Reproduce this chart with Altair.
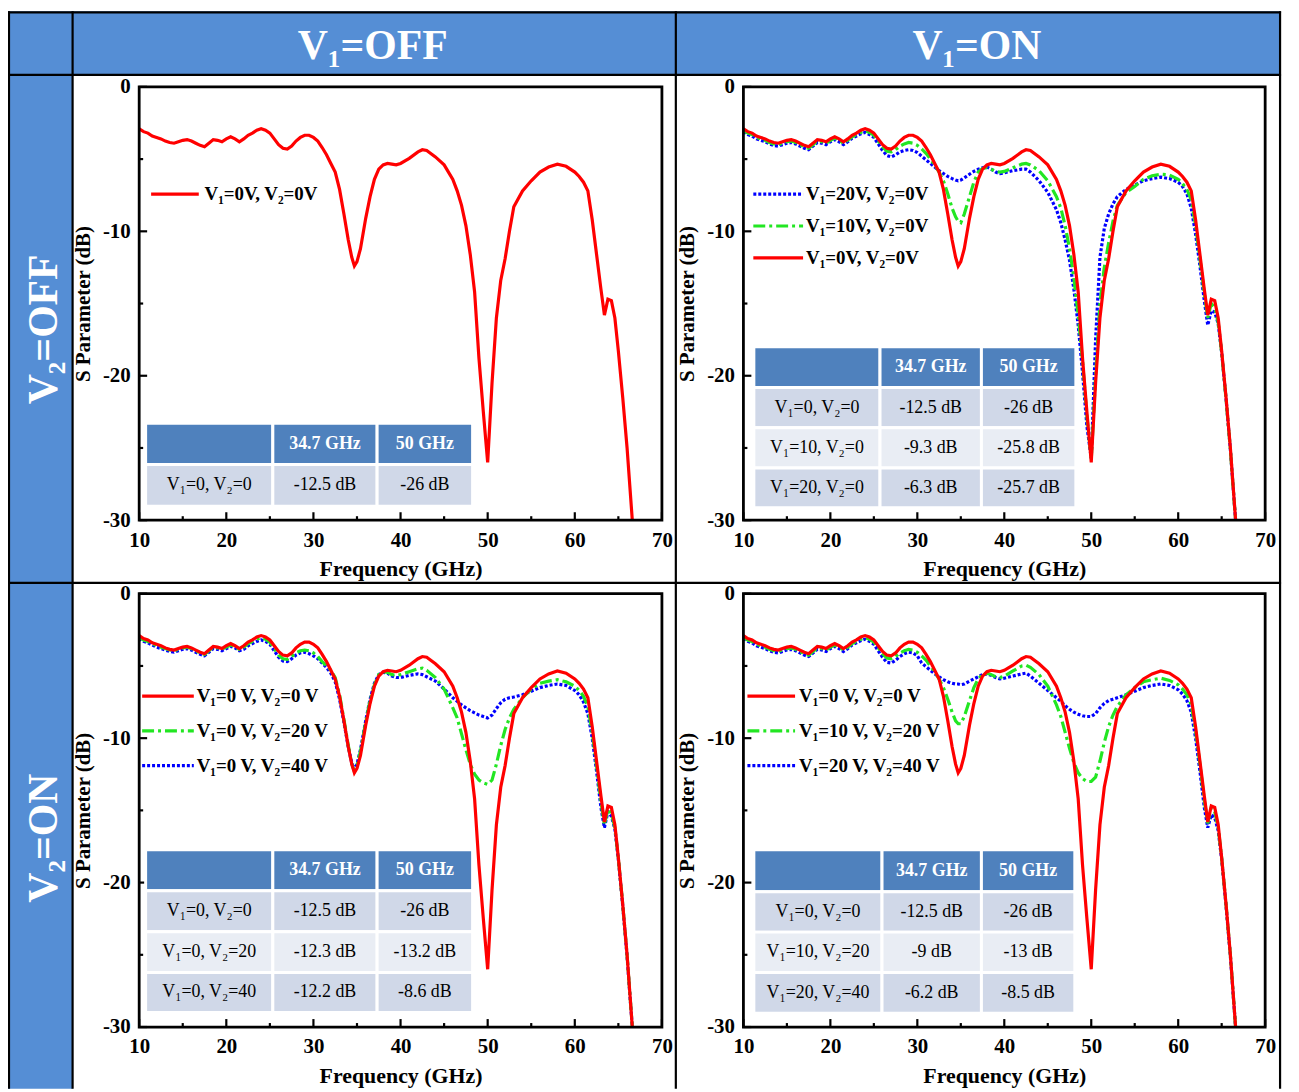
import altair as alt
import pandas as pd

# ---------------- values ----------------
FREQ = [10, 10.5, 11, 11.5, 12, 12.5, 13, 13.5, 14, 14.5, 15, 15.5, 16, 16.5, 17, 17.5,
        18, 18.5, 19, 19.5, 20, 20.5, 21, 21.5, 22, 22.5, 23, 23.5, 24, 24.5, 25, 25.5,
        26, 26.5, 27, 27.5, 28, 28.5, 29, 29.5, 30,
        30.5, 31, 31.5, 32, 32.5, 33, 33.5, 34, 34.4, 34.7, 35, 35.4,
        36, 36.5, 37, 37.5, 38, 38.5, 39, 39.5, 40,
        41, 42, 42.5, 43, 44, 45, 46,
        46.5, 47, 47.5, 48, 48.5, 49, 49.5, 50, 50.5, 51, 51.5, 52, 52.5, 53,
        54, 55, 56, 57, 58, 59, 60,
        60.5, 61, 61.5, 62, 62.5, 63,
        63.4, 63.8, 64.2, 64.6, 65, 65.5, 66, 66.3, 66.6]

# V1=0, V2=0 (red, same in all four panels)
S_00 = [-2.9, -3.1, -3.2, -3.4, -3.5, -3.6, -3.75, -3.85, -3.9, -3.8, -3.7, -3.65, -3.75, -3.9, -4.05, -4.15,
        -3.9, -3.65, -3.7, -3.8, -3.6, -3.45, -3.6, -3.8, -3.6, -3.35, -3.2, -3.0, -2.9, -3.0, -3.2, -3.6,
        -4.0, -4.25, -4.3, -4.1, -3.75, -3.5, -3.35, -3.35, -3.5,
        -3.75, -4.2, -4.7, -5.3, -5.9, -7.1, -8.8, -10.6, -11.8, -12.4, -12.1, -11.2,
        -9.1, -7.6, -6.4, -5.7, -5.4, -5.3, -5.35, -5.4, -5.3,
        -4.95, -4.5, -4.35, -4.4, -4.85, -5.4, -6.4,
        -7.2, -8.2, -9.6, -11.6, -14.2, -18.8, -22.5, -26.0, -20.5, -16.0, -13.4, -11.9, -10.0, -8.3,
        -7.2, -6.5, -5.9, -5.55, -5.35, -5.5, -5.9,
        -6.2, -6.6, -7.2, -9.2, -11.6, -14.0,
        -15.8, -14.7, -14.8, -16.0, -18.3, -21.5, -25.0, -27.5, -30.0]

# V1=10, V2=0 (green, top right)
S_10_0 = [-3.0, -3.2, -3.3, -3.5, -3.6, -3.7, -3.85, -3.95, -4.0, -3.9, -3.8, -3.75, -3.85, -4.0, -4.15, -4.25,
          -4.0, -3.75, -3.8, -3.9, -3.7, -3.55, -3.7, -3.9, -3.7, -3.45, -3.3, -3.15, -3.05, -3.15, -3.35, -3.75,
          -4.15, -4.45, -4.5, -4.35, -4.1, -3.95, -3.85, -3.9, -4.05,
          -4.3, -4.6, -5.0, -5.4, -5.9, -6.5, -7.4, -8.4, -9.0, -9.3, -9.4, -8.8,
          -7.6, -6.6, -5.9, -5.65, -5.6, -5.7, -5.85, -5.9, -5.85,
          -5.6, -5.35, -5.3, -5.4, -5.8, -6.5, -7.6,
          -8.4, -9.6, -11.2, -13.2, -15.8, -19.0, -22.8, -25.8, -20.0, -15.0, -12.5, -10.8, -9.3, -8.2,
          -7.3, -6.9, -6.4, -6.15, -6.05, -6.1, -6.4,
          -6.7, -7.1, -7.8, -9.6, -11.9, -14.3,
          -16.0, -15.0, -15.3, -16.3, -18.4, -21.6, -25.1, -27.6, -30.0]

# V1=20, V2=0 (blue, top right)
S_20_0 = [-3.1, -3.3, -3.4, -3.6, -3.7, -3.8, -3.95, -4.05, -4.1, -4.0, -3.9, -3.85, -3.95, -4.1, -4.25, -4.35,
          -4.1, -3.85, -3.9, -4.0, -3.8, -3.65, -3.8, -4.0, -3.8, -3.55, -3.4, -3.25, -3.15, -3.3, -3.5, -3.95,
          -4.4, -4.75, -4.85, -4.7, -4.5, -4.4, -4.35, -4.4, -4.55,
          -4.8, -5.05, -5.3, -5.55, -5.8, -6.0, -6.2, -6.35, -6.45, -6.5, -6.45, -6.3,
          -6.05, -5.85, -5.7, -5.6, -5.55, -5.7, -5.9, -6.0, -5.95,
          -5.8, -5.7, -5.7, -5.9, -6.5, -7.3, -8.5,
          -9.4, -10.6, -12.0, -14.0, -16.5, -19.8, -23.5, -25.7, -17.5, -11.8, -9.8, -8.8, -8.1, -7.6,
          -7.1, -6.8, -6.5, -6.35, -6.25, -6.35, -6.6,
          -6.9, -7.4, -8.4, -10.2, -12.4, -14.8,
          -16.5, -15.5, -15.6, -16.4, -18.4, -21.6, -25.1, -27.6, -30.0]

# V1=0, V2=20 (green, bottom left)
S_0_20 = [-3.0, -3.2, -3.3, -3.45, -3.6, -3.7, -3.8, -3.9, -3.95, -3.85, -3.75, -3.7, -3.8, -3.95, -4.1, -4.2,
          -3.95, -3.7, -3.75, -3.85, -3.7, -3.55, -3.65, -3.85, -3.7, -3.45, -3.3, -3.15, -3.05, -3.15, -3.35, -3.8,
          -4.25, -4.5, -4.55, -4.35, -4.1, -3.95, -3.9, -3.95, -4.1,
          -4.35, -4.7, -5.0, -5.3, -5.8, -7.0, -8.7, -10.5, -11.8, -12.3, -11.9, -10.9,
          -8.9, -7.4, -6.3, -5.6, -5.4, -5.45, -5.6, -5.65, -5.6,
          -5.4, -5.2, -5.15, -5.3, -5.8, -6.6, -7.9,
          -8.6, -9.7, -10.8, -11.8, -12.5, -12.9, -13.1, -13.2, -12.9, -11.8, -10.5, -9.4, -8.6, -8.0,
          -7.2, -6.6, -6.2, -6.05, -5.95, -6.1, -6.4,
          -6.7, -7.1, -7.8, -9.6, -11.9, -14.4,
          -16.0, -14.9, -15.2, -16.2, -18.3, -21.5, -25.0, -27.5, -30.0]

# V1=0, V2=40 (blue, bottom left)
S_0_40 = [-3.1, -3.3, -3.4, -3.55, -3.7, -3.8, -3.9, -4.0, -4.05, -3.95, -3.85, -3.8, -3.9, -4.05, -4.2, -4.3,
          -4.05, -3.8, -3.85, -3.95, -3.8, -3.65, -3.75, -3.95, -3.85, -3.6, -3.45, -3.3, -3.2, -3.3, -3.5, -3.95,
          -4.4, -4.65, -4.7, -4.5, -4.25, -4.1, -4.05, -4.15, -4.3,
          -4.5, -4.8, -5.1, -5.5, -6.1, -7.3, -8.9, -10.6, -11.7, -12.2, -11.8, -10.8,
          -8.8, -7.3, -6.2, -5.6, -5.45, -5.5, -5.7, -5.8, -5.8,
          -5.65, -5.55, -5.6, -5.75, -6.05, -6.6, -7.2,
          -7.45, -7.7, -7.9, -8.1, -8.25, -8.4, -8.5, -8.6, -8.4, -7.95, -7.55, -7.3, -7.2, -7.15,
          -7.0, -6.75, -6.5, -6.35, -6.25, -6.35, -6.7,
          -7.0, -7.5, -8.3, -10.0, -12.3, -14.8,
          -16.2, -15.1, -15.4, -16.3, -18.4, -21.6, -25.1, -27.6, -30.0]

# V1=10, V2=20 (green, bottom right)
S_10_20 = [-3.0, -3.2, -3.3, -3.5, -3.6, -3.7, -3.85, -3.95, -4.0, -3.9, -3.8, -3.75, -3.85, -4.0, -4.15, -4.25,
           -4.0, -3.75, -3.8, -3.9, -3.7, -3.55, -3.7, -3.9, -3.7, -3.45, -3.3, -3.15, -3.05, -3.15, -3.35, -3.75,
           -4.15, -4.45, -4.5, -4.35, -4.1, -3.95, -3.85, -3.9, -4.05,
           -4.3, -4.6, -5.0, -5.4, -5.9, -6.5, -7.3, -8.2, -8.8, -9.0, -9.0, -8.5,
           -7.4, -6.5, -5.9, -5.6, -5.5, -5.6, -5.75, -5.8, -5.7,
           -5.35, -5.0, -4.95, -5.1, -5.6, -6.4, -7.7,
           -8.5, -9.6, -10.7, -11.7, -12.4, -12.8, -13.0, -13.0, -12.7, -11.6, -10.3, -9.2, -8.4, -7.8,
           -7.0, -6.5, -6.1, -5.95, -5.85, -6.0, -6.3,
           -6.6, -7.0, -7.7, -9.5, -11.8, -14.3,
           -15.9, -14.8, -15.1, -16.2, -18.3, -21.5, -25.0, -27.5, -30.0]

# V1=20, V2=40 (blue, bottom right)
S_20_40 = [-3.1, -3.3, -3.4, -3.6, -3.7, -3.8, -3.95, -4.05, -4.1, -4.0, -3.9, -3.85, -3.95, -4.1, -4.25, -4.35,
           -4.1, -3.85, -3.9, -4.0, -3.8, -3.65, -3.8, -4.0, -3.8, -3.55, -3.4, -3.25, -3.15, -3.3, -3.5, -3.95,
           -4.4, -4.75, -4.8, -4.6, -4.35, -4.15, -4.05, -4.1, -4.3,
           -4.8, -5.05, -5.3, -5.55, -5.75, -5.95, -6.1, -6.2, -6.25, -6.25, -6.3, -6.25,
           -6.05, -5.9, -5.75, -5.6, -5.55, -5.65, -5.8, -5.9, -5.85,
           -5.7, -5.55, -5.5, -5.7, -6.2, -6.7, -7.2,
           -7.45, -7.75, -8.0, -8.2, -8.35, -8.45, -8.5, -8.5, -8.3, -7.9, -7.6, -7.4, -7.3, -7.2,
           -7.0, -6.75, -6.5, -6.35, -6.25, -6.35, -6.65,
           -6.95, -7.4, -8.2, -10.0, -12.3, -14.8,
           -16.2, -15.3, -15.5, -16.4, -18.4, -21.6, -25.1, -27.6, -30.0]

for _s in (S_00, S_10_0, S_20_0, S_0_20, S_0_40, S_10_20, S_20_40):
    assert len(_s) == len(FREQ)

X_MAJOR = [10, 20, 30, 40, 50, 60, 70]
X_MINOR = [15, 25, 35, 45, 55, 65]
Y_MAJOR = [0, -10, -20, -30]
Y_MINOR = [-5, -15, -25]

COL_HEADERS = ["V\u2081=OFF", "V\u2081=ON"]
ROW_HEADERS = ["V\u2082=OFF", "V\u2082=ON"]
TABLE_HEAD = ["", "34.7 GHz", "50 GHz"]

TL_ROWS = [["V\u2081=0, V\u2082=0", "-12.5 dB", "-26 dB"]]
TR_ROWS = [["V\u2081=0, V\u2082=0", "-12.5 dB", "-26 dB"],
           ["V\u2081=10, V\u2082=0", "-9.3 dB", "-25.8 dB"],
           ["V\u2081=20, V\u2082=0", "-6.3 dB", "-25.7 dB"]]
BL_ROWS = [["V\u2081=0, V\u2082=0", "-12.5 dB", "-26 dB"],
           ["V\u2081=0, V\u2082=20", "-12.3 dB", "-13.2 dB"],
           ["V\u2081=0, V\u2082=40", "-12.2 dB", "-8.6 dB"]]
BR_ROWS = [["V\u2081=0, V\u2082=0", "-12.5 dB", "-26 dB"],
           ["V\u2081=10, V\u2082=20", "-9 dB", "-13 dB"],
           ["V\u2081=20, V\u2082=40", "-6.2 dB", "-8.5 dB"]]

# ---------------- styling / layout ----------------
FONT = "Liberation Serif"
W, H = 1291, 1084
HEAD_BLUE = "#558ed5"
TAB_HEAD = "#4f81bd"
TAB_DARK = "#d0d8e8"
TAB_LIGHT = "#e9edf4"

STYLE = {
    "red": dict(color="#ff0000"),
    "green": dict(color="#22e622", strokeDash=[12, 4, 3, 4]),
    "blue": dict(color="#0000ff", strokeDash=[3, 2]),
}


def panel(xr, yr, series, legend, leg_line, leg_text_x, tab_x, tab_y, rows):
    xs = alt.Scale(domain=[10, 70], range=xr, nice=False, zero=False)
    ys = alt.Scale(domain=[-30, 0], range=yr, nice=False, zero=False)
    layers = []

    xaxis = alt.Axis(orient="bottom", offset=yr[0] - H, values=X_MAJOR, title="Frequency (GHz)",
                     domain=False, ticks=False, grid=False, labelFont=FONT, labelFontWeight="bold",
                     labelFontSize=21, labelColor="black", labelPadding=9, labelFlush=False,
                     labelOverlap=False, labelExpr="'' + datum.value",
                     titleFont=FONT, titleFontWeight="bold", titleFontSize=22, titleColor="black",
                     titleY=49, titleBaseline="middle")
    yaxis = alt.Axis(orient="left", offset=-xr[0], values=Y_MAJOR, title="S Parameter (dB)",
                     domain=False, ticks=False, grid=False, labelFont=FONT, labelFontWeight="bold",
                     labelFontSize=21, labelColor="black", labelPadding=9, labelFlush=False,
                     labelOverlap=False, labelExpr="'' + datum.value",
                     titleFont=FONT, titleFontWeight="bold", titleFontSize=21, titleColor="black",
                     titleX=-56, titleBaseline="middle")

    # curves
    for vals, sty in series:
        df = pd.DataFrame({"f": FREQ, "s": vals})
        layers.append(alt.Chart(df).mark_line(strokeWidth=3.2, **STYLE[sty]).encode(
            x=alt.X("f:Q", scale=xs, axis=None), y=alt.Y("s:Q", scale=ys, axis=None)))

    # frame carrying the axes
    frame = pd.DataFrame({"f": [10], "f2": [70], "s": [-30], "s2": [0]})
    layers.append(alt.Chart(frame).mark_rect(fill="transparent", stroke="black", strokeWidth=2.8).encode(
        x=alt.X("f:Q", scale=xs, axis=xaxis), x2="f2:Q",
        y=alt.Y("s:Q", scale=ys, axis=yaxis), y2="s2:Q"))

    # inward ticks
    gx = 60.0 / (xr[1] - xr[0])
    gy = 30.0 / (yr[0] - yr[1])
    xt = pd.DataFrame({"f": X_MAJOR + X_MINOR,
                       "s": [-30] * (len(X_MAJOR) + len(X_MINOR)),
                       "s2": [-30 + 8 * gy] * len(X_MAJOR) + [-30 + 4 * gy] * len(X_MINOR)})
    layers.append(alt.Chart(xt).mark_rule(color="black", strokeWidth=2.2).encode(
        x=alt.X("f:Q", scale=xs, axis=None), y=alt.Y("s:Q", scale=ys, axis=None), y2="s2:Q"))
    yt = pd.DataFrame({"s": Y_MAJOR + Y_MINOR,
                       "f": [10] * (len(Y_MAJOR) + len(Y_MINOR)),
                       "f2": [10 + 8 * gx] * len(Y_MAJOR) + [10 + 4 * gx] * len(Y_MINOR)})
    layers.append(alt.Chart(yt).mark_rule(color="black", strokeWidth=2.2).encode(
        x=alt.X("f:Q", scale=xs, axis=None), x2="f2:Q", y=alt.Y("s:Q", scale=ys, axis=None)))

    # legend
    for (label, sty, yv) in legend:
        ld = pd.DataFrame({"f": [leg_line[0]], "f2": [leg_line[1]], "s": [yv]})
        layers.append(alt.Chart(ld).mark_rule(strokeWidth=3.2, **STYLE[sty]).encode(
            x=alt.X("f:Q", scale=xs, axis=None), x2="f2:Q", y=alt.Y("s:Q", scale=ys, axis=None)))
        td = pd.DataFrame({"f": [leg_text_x], "s": [yv], "t": [label]})
        layers.append(alt.Chart(td).mark_text(align="left", baseline="middle", font=FONT,
                                              fontWeight="bold", fontSize=19, color="black").encode(
            x=alt.X("f:Q", scale=xs, axis=None), y=alt.Y("s:Q", scale=ys, axis=None), text="t:N"))

    # table
    cells = []
    texts = []
    all_rows = [TABLE_HEAD] + rows
    for ri, row in enumerate(all_rows):
        fill = TAB_HEAD if ri == 0 else (TAB_DARK if ri % 2 == 1 else TAB_LIGHT)
        for ci, txt in enumerate(row):
            cells.append({"f": tab_x[ci], "f2": tab_x[ci + 1], "s": tab_y[ri], "s2": tab_y[ri + 1],
                          "fill": fill})
            texts.append({"f": (tab_x[ci] + tab_x[ci + 1]) / 2, "s": (tab_y[ri] + tab_y[ri + 1]) / 2,
                          "t": txt, "head": ri == 0})
    cdf = pd.DataFrame(cells)
    layers.append(alt.Chart(cdf).mark_rect(stroke="white", strokeWidth=3).encode(
        x=alt.X("f:Q", scale=xs, axis=None), x2="f2:Q",
        y=alt.Y("s:Q", scale=ys, axis=None), y2="s2:Q",
        color=alt.Color("fill:N", scale=None)))
    tdf = pd.DataFrame(texts)
    layers.append(alt.Chart(tdf[tdf["head"]]).mark_text(align="center", baseline="middle", font=FONT,
                                                        fontWeight="bold", fontSize=18, color="white").encode(
        x=alt.X("f:Q", scale=xs, axis=None), y=alt.Y("s:Q", scale=ys, axis=None), text="t:N"))
    layers.append(alt.Chart(tdf[~tdf["head"]]).mark_text(align="center", baseline="middle", font=FONT,
                                                         fontSize=18, color="black").encode(
        x=alt.X("f:Q", scale=xs, axis=None), y=alt.Y("s:Q", scale=ys, axis=None), text="t:N"))
    return layers


TL = panel([132, 658], [512, 76],
           [(S_00, "red")],
           [("V\u2081=0V, V\u2082=0V", "red", -7.43)], (11.37, 16.84), 17.5,
           [10.74, 25.34, 37.31, 48.27], [-23.29, -26.15, -29.04], TL_ROWS)
TR = panel([740, 1265], [512, 76],
           [(S_20_0, "blue"), (S_10_0, "green"), (S_00, "red")],
           [("V\u2081=20V, V\u2082=0V", "blue", -7.43),
            ("V\u2081=10V, V\u2082=0V", "green", -9.63),
            ("V\u2081=0V, V\u2082=0V", "red", -11.84)], (11.14, 16.86), 17.2,
           [11.2, 25.71, 37.37, 48.23], [-17.99, -20.81, -23.60, -26.39, -29.14], TR_ROWS)
BL = panel([132, 658], [1022, 586],
           [(S_0_40, "blue"), (S_0_20, "green"), (S_00, "red")],
           [("V\u2081=0 V, V\u2082=0 V", "red", -7.09),
            ("V\u2081=0 V, V\u2082=20 V", "green", -9.5),
            ("V\u2081=0 V, V\u2082=40 V", "blue", -11.9)], (10.34, 16.27), 16.6,
           [10.74, 25.34, 37.31, 48.27], [-17.72, -20.57, -23.4, -26.22, -29.0], BL_ROWS)
BR = panel([740, 1265], [1022, 586],
           [(S_20_40, "blue"), (S_10_20, "green"), (S_00, "red")],
           [("V\u2081=0 V, V\u2082=0 V", "red", -7.09),
            ("V\u2081=10 V, V\u2082=20 V", "green", -9.5),
            ("V\u2081=20 V, V\u2082=40 V", "blue", -11.9)], (10.46, 15.94), 16.4,
           [11.2, 25.94, 37.37, 48.11], [-17.72, -20.64, -23.43, -26.22, -29.04], BR_ROWS)

# ---------------- outer grid (pixel scale) ----------------
bx = alt.Scale(domain=[0, W], range=[0, W], nice=False, zero=False)
by = alt.Scale(domain=[0, H], range=[0, H], nice=False, zero=False)

bands = pd.DataFrame({"x": [0, 0], "x2": [1280, 65], "y": [0, 64], "y2": [64, H]})
band_chart = alt.Chart(bands).mark_rect(color=HEAD_BLUE).encode(
    x=alt.X("x:Q", scale=bx, axis=None), x2="x2:Q", y=alt.Y("y:Q", scale=by, axis=None), y2="y2:Q")

grid = pd.DataFrame({
    "x": [0, 1, 1280, 0, 65, 672, 0],
    "x2": [1281, 1, 1280, 1281, 65, 672, 1281],
    "y": [1, 0, 0, 64, 0, 0, 575],
    "y2": [1, H, H, 64, H, H, 575],
})
grid_chart = alt.Chart(grid).mark_rule(color="black", strokeWidth=2.2).encode(
    x=alt.X("x:Q", scale=bx, axis=None), x2="x2:Q", y=alt.Y("y:Q", scale=by, axis=None), y2="y2:Q")

col_head = pd.DataFrame({"x": [367, 975], "y": [48, 48], "t": COL_HEADERS})
col_chart = alt.Chart(col_head).mark_text(font=FONT, fontWeight="bold", fontSize=42, color="white",
                                          align="center", baseline="alphabetic").encode(
    x=alt.X("x:Q", scale=bx, axis=None), y=alt.Y("y:Q", scale=by, axis=None), text="t:N")
row_head = pd.DataFrame({"x": [49, 49], "y": [320, 832], "t": ROW_HEADERS})
row_chart = alt.Chart(row_head).mark_text(font=FONT, fontWeight="bold", fontSize=42, color="white",
                                          align="center", baseline="alphabetic", angle=270).encode(
    x=alt.X("x:Q", scale=bx, axis=None), y=alt.Y("y:Q", scale=by, axis=None), text="t:N")

chart = alt.layer(band_chart, grid_chart, col_chart, row_chart, *TL, *TR, *BL, *BR).resolve_scale(
    x="independent", y="independent", color="independent"
).resolve_axis(x="independent", y="independent").properties(
    width=W, height=H, autosize="none", padding=0, background="white"
).configure_view(strokeWidth=0)

chart.save("out.html", embed_options={"renderer": "svg", "actions": False})
